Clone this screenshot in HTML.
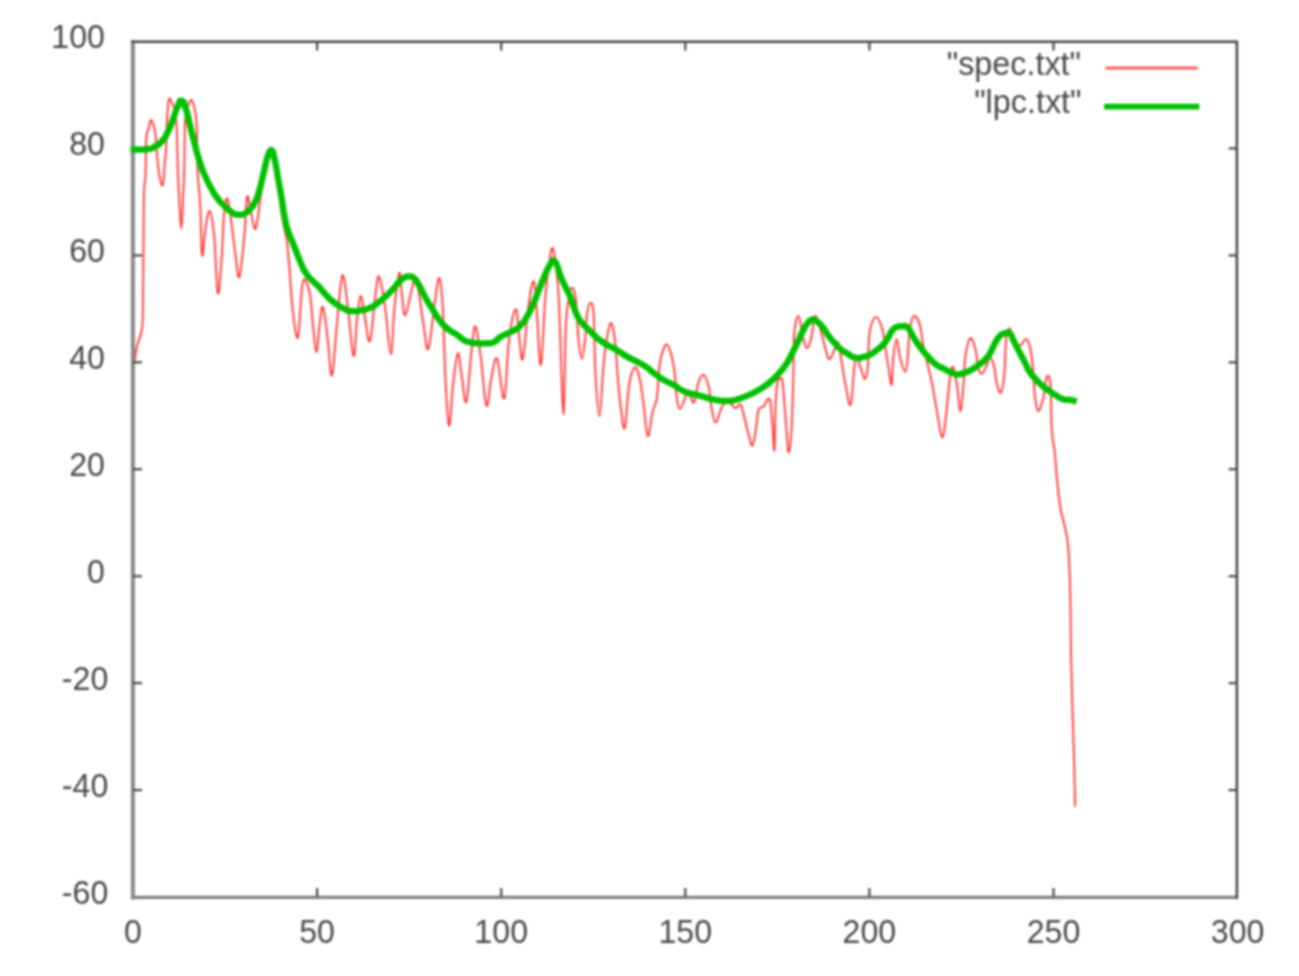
<!DOCTYPE html>
<html><head><meta charset="utf-8"><title>plot</title>
<style>
html,body{margin:0;padding:0;background:#fff;}
body{width:1299px;height:976px;overflow:hidden;}
svg{display:block;filter:blur(0.8px);}
text{font-family:"Liberation Sans",sans-serif;font-size:33.5px;fill:#484848;}
.ax{stroke:#484848;stroke-width:2.7;fill:none;}
.tk{stroke:#484848;stroke-width:2.2;fill:none;}
</style></head><body>
<svg width="1299" height="976" viewBox="0 0 1299 976">
<rect x="0" y="0" width="1299" height="976" fill="#fff"/>
<path d="M133.0,373.0 C133.7,368.2 135.4,354.5 136.9,347.0 C138.4,339.5 140.1,338.8 141.2,332.0 C142.3,325.2 142.5,334.2 143.0,310.0 C143.5,285.8 143.3,224.6 143.8,200.0 C144.3,175.4 145.0,187.3 145.5,176.0 C146.0,164.7 145.7,147.4 146.3,138.5 C146.9,129.6 148.0,131.1 148.9,127.7 C149.8,124.3 150.1,119.2 151.3,120.2 C152.5,121.2 154.3,126.8 155.3,133.1 C156.3,139.4 156.1,146.8 156.9,154.7 C157.7,162.6 158.5,170.7 159.6,176.2 C160.7,181.7 161.9,187.8 162.9,184.8 C163.9,181.8 164.4,166.5 165.0,160.0 C165.6,153.5 165.7,156.6 166.1,149.3 C166.5,142.0 166.5,129.1 167.0,120.0 C167.5,110.9 168.1,102.6 169.0,99.5 C169.9,96.4 171.0,101.3 172.0,102.9 C173.0,104.5 173.4,104.2 174.2,108.3 C175.0,112.4 176.0,115.2 176.6,125.0 C177.2,134.8 177.2,149.2 177.6,162.0 C178.0,174.8 178.3,182.7 179.0,195.0 C179.7,207.3 180.5,229.0 181.3,229.0 C182.1,229.0 182.6,206.7 183.2,195.0 C183.8,183.3 184.0,177.5 184.3,165.0 C184.6,152.5 184.6,136.7 184.9,127.0 C185.2,117.3 185.5,116.2 186.2,112.0 C186.9,107.8 187.7,106.2 188.7,104.0 C189.7,101.8 190.5,99.2 191.6,100.2 C192.7,101.2 193.7,104.4 194.7,109.4 C195.7,114.4 196.3,116.4 196.8,127.7 C197.3,139.0 197.0,156.6 197.6,170.8 C198.2,185.0 199.4,189.6 200.2,205.0 C201.0,220.4 201.2,250.1 202.1,255.0 C203.0,259.9 203.7,240.1 205.0,232.0 C206.3,223.9 207.8,210.7 209.4,211.0 C211.1,211.3 212.4,218.8 214.0,233.9 C215.6,249.0 216.5,288.4 217.9,293.1 C219.3,297.8 220.5,273.6 221.6,259.3 C222.7,245.0 222.9,226.1 224.0,215.0 C225.1,203.9 226.1,196.7 227.5,198.6 C228.9,200.5 230.3,215.1 231.8,225.4 C233.3,235.7 234.1,245.5 235.5,255.0 C236.9,264.5 237.8,280.9 239.4,277.0 C241.1,273.1 243.1,248.6 244.5,233.9 C245.9,219.2 245.9,201.3 247.0,196.9 C248.1,192.5 249.1,204.1 250.5,210.0 C251.9,215.9 253.5,227.4 254.8,229.0 C256.1,230.6 256.9,222.7 257.7,218.7 C258.5,214.7 258.6,211.5 259.2,207.0 C259.8,202.5 260.3,198.9 261.0,194.0 C261.7,189.1 262.1,185.7 263.0,180.0 C263.9,174.3 264.7,168.1 266.0,163.0 C267.3,157.9 268.5,151.6 270.0,152.0 C271.5,152.4 272.4,157.1 274.0,165.0 C275.6,172.9 277.4,184.6 279.0,195.0 C280.6,205.4 281.6,213.6 283.0,222.0 C284.4,230.4 285.6,232.2 286.8,240.6 C288.0,249.0 288.3,255.0 289.4,267.7 C290.5,280.4 291.2,297.1 292.7,310.0 C294.2,322.9 296.3,339.8 297.8,338.0 C299.3,336.2 299.9,310.7 301.0,300.0 C302.1,289.3 302.2,280.9 303.8,279.6 C305.4,278.3 308.0,284.7 309.7,293.0 C311.4,301.3 311.8,314.1 313.0,325.0 C314.2,335.9 315.3,352.4 316.5,352.4 C317.7,352.4 318.3,333.3 319.5,325.0 C320.7,316.7 321.4,304.6 322.9,307.0 C324.4,309.4 326.0,325.6 327.6,338.2 C329.2,350.8 330.2,378.0 331.9,375.5 C333.6,373.0 335.0,343.0 336.9,324.7 C338.8,306.4 340.4,278.7 342.4,275.6 C344.4,272.5 345.9,293.0 347.9,307.7 C349.9,322.4 351.8,353.7 353.5,356.0 C355.2,358.3 355.7,331.0 357.0,320.0 C358.3,309.0 359.1,296.3 360.6,295.9 C362.1,295.5 363.3,309.8 365.0,318.0 C366.7,326.2 368.0,345.8 370.0,340.8 C372.0,335.8 374.2,302.4 375.9,290.8 C377.6,279.2 377.6,274.2 379.3,277.3 C381.0,280.4 383.1,293.6 385.2,307.7 C387.3,321.8 389.1,354.3 390.8,354.3 C392.5,354.3 392.9,322.6 394.5,307.7 C396.1,292.8 397.9,275.3 399.3,273.0 C400.7,270.7 400.9,287.2 402.0,295.0 C403.1,302.8 403.5,316.2 405.2,315.4 C406.9,314.6 409.6,297.9 411.5,290.8 C413.4,283.7 414.2,274.8 415.7,276.4 C417.2,278.0 418.4,289.8 419.9,299.3 C421.4,308.8 422.4,319.0 424.0,328.0 C425.6,337.0 426.3,353.7 428.4,348.4 C430.5,343.1 433.2,312.2 435.2,299.3 C437.2,286.4 438.0,276.6 439.4,278.1 C440.8,279.6 441.7,289.8 442.8,307.7 C443.9,325.6 444.2,353.9 445.3,375.5 C446.4,397.1 447.6,424.0 449.0,425.7 C450.4,427.4 451.4,398.3 453.0,385.0 C454.6,371.7 456.2,354.5 457.9,353.2 C459.5,351.9 460.4,369.1 462.0,378.0 C463.6,386.9 464.6,406.6 466.4,401.5 C468.2,396.4 469.9,363.9 471.6,350.1 C473.3,336.3 473.8,324.8 475.5,326.4 C477.2,328.0 478.9,344.1 480.9,358.6 C482.9,373.1 484.5,401.8 486.4,405.7 C488.3,409.6 489.1,388.6 491.0,380.0 C492.9,371.4 494.6,355.3 497.0,358.7 C499.4,362.1 502.0,401.6 504.2,398.5 C506.4,395.4 506.7,357.9 508.8,341.6 C510.9,325.3 513.7,310.6 515.6,309.4 C517.5,308.2 517.7,325.9 519.0,335.0 C520.3,344.1 521.1,364.0 522.8,359.0 C524.5,354.0 526.3,322.0 528.3,307.7 C530.3,293.4 532.2,280.2 533.8,281.2 C535.4,282.2 535.6,297.8 536.9,313.1 C538.2,328.4 539.2,367.9 540.8,364.8 C542.4,361.7 543.9,314.5 545.4,296.2 C546.9,277.9 547.6,273.7 549.0,265.0 C550.4,256.3 551.3,244.6 553.0,248.8 C554.7,253.0 556.9,273.7 558.1,287.7 C559.3,301.7 558.8,301.9 559.8,325.0 C560.8,348.1 562.3,412.9 563.4,413.8 C564.5,414.7 564.8,350.6 565.7,330.0 C566.6,309.4 567.2,309.1 568.3,301.3 C569.4,293.5 570.3,288.0 571.7,287.7 C573.1,287.4 574.7,290.3 575.9,299.6 C577.1,308.9 577.3,327.7 578.4,338.6 C579.5,349.5 580.5,358.9 581.7,358.9 C582.9,358.9 584.2,346.7 585.2,338.6 C586.2,330.5 586.0,321.3 586.9,314.8 C587.8,308.3 589.1,303.0 590.3,303.0 C591.5,303.0 592.8,302.1 593.7,314.8 C594.6,327.5 594.4,353.8 595.4,372.4 C596.4,391.0 598.0,416.4 599.4,416.4 C600.8,416.4 601.9,385.1 603.0,372.4 C604.1,359.7 604.1,356.0 605.5,347.0 C606.9,338.0 608.8,324.8 610.5,323.3 C612.2,321.8 613.5,329.6 614.8,338.6 C616.1,347.6 616.4,360.2 617.4,372.4 C618.4,384.6 619.1,394.8 620.5,405.0 C621.9,415.2 623.2,431.9 624.8,428.2 C626.4,424.5 627.2,396.2 629.1,385.0 C631.0,373.8 633.0,368.1 635.0,367.3 C637.0,366.5 638.7,374.3 640.2,380.9 C641.7,387.5 642.0,393.0 643.4,403.1 C644.8,413.2 646.1,434.4 647.8,436.0 C649.5,437.6 651.0,418.6 652.7,411.6 C654.4,404.6 655.7,406.4 656.9,398.0 C658.1,389.6 658.5,374.3 659.5,365.9 C660.5,357.5 661.2,355.9 662.5,352.0 C663.8,348.1 665.1,344.0 666.8,344.6 C668.5,345.2 670.1,349.8 671.6,355.5 C673.1,361.2 674.1,368.6 675.0,375.8 C675.9,383.0 675.5,388.6 676.4,394.7 C677.3,400.8 677.9,409.1 679.8,409.1 C681.7,409.1 684.7,397.1 686.6,394.7 C688.5,392.3 688.6,394.6 690.0,396.0 C691.4,397.4 692.7,404.7 694.2,402.3 C695.7,399.9 696.7,387.8 698.4,382.8 C700.1,377.8 701.7,374.2 703.6,374.8 C705.5,375.4 707.2,380.7 708.6,386.2 C710.0,391.7 709.9,398.1 711.1,404.8 C712.3,411.5 713.5,422.0 715.4,422.6 C717.3,423.2 719.3,412.1 721.3,408.2 C723.3,404.3 724.6,402.3 726.4,401.5 C728.2,400.7 729.3,402.8 731.0,404.0 C732.7,405.2 733.9,408.1 735.7,408.2 C737.5,408.3 739.1,402.6 740.8,404.8 C742.5,407.0 743.5,414.2 745.0,420.1 C746.5,426.0 747.8,432.3 749.2,437.0 C750.6,441.7 751.4,447.0 752.6,445.5 C753.8,444.0 754.9,435.1 756.0,428.6 C757.1,422.1 757.2,414.0 758.6,409.9 C760.0,405.8 761.6,408.5 763.6,406.5 C765.6,404.5 768.0,396.4 769.6,398.9 C771.2,401.4 771.2,410.6 772.1,420.1 C773.0,429.6 773.8,453.3 774.4,450.5 C775.0,447.7 775.0,417.6 775.6,405.0 C776.2,392.4 776.7,386.9 777.5,382.0 C778.3,377.1 779.1,378.7 780.0,378.5 C780.9,378.3 781.7,376.1 782.5,381.0 C783.3,385.9 783.8,395.7 784.6,405.0 C785.4,414.3 785.8,423.0 786.6,431.7 C787.4,440.4 787.8,452.9 788.7,452.3 C789.6,451.7 790.8,442.3 791.6,428.6 C792.4,414.9 792.8,394.8 793.3,377.7 C793.8,360.6 793.2,346.7 794.1,335.4 C795.0,324.1 796.8,315.9 798.4,315.9 C800.0,315.9 801.1,329.5 802.6,335.4 C804.1,341.3 805.2,347.5 806.8,348.1 C808.4,348.7 809.5,344.7 811.1,338.8 C812.7,332.9 813.3,316.5 815.3,315.9 C817.3,315.3 820.1,328.7 822.1,335.4 C824.1,342.1 824.9,348.0 826.3,352.3 C827.7,356.6 828.1,359.7 829.7,359.1 C831.3,358.5 833.3,352.1 834.8,349.0 C836.3,345.9 836.9,340.0 838.1,342.2 C839.3,344.4 840.1,352.7 841.5,360.8 C842.9,368.9 844.1,378.2 845.8,386.2 C847.5,394.2 849.1,408.2 850.7,404.5 C852.3,400.8 853.3,374.8 854.4,366.2 C855.5,357.6 855.7,357.1 856.9,357.7 C858.1,358.3 859.7,365.7 861.2,369.6 C862.7,373.5 863.9,379.5 865.1,378.9 C866.3,378.3 867.1,374.7 867.9,366.2 C868.7,357.7 868.1,341.3 869.6,332.3 C871.1,323.3 873.6,317.7 875.9,317.1 C878.2,316.5 880.5,323.1 882.3,329.0 C884.1,334.9 884.6,342.5 885.7,349.3 C886.8,356.1 887.2,359.7 888.3,366.2 C889.4,372.7 890.8,386.4 891.7,384.8 C892.6,383.2 892.4,366.1 893.3,357.7 C894.2,349.3 895.5,339.1 896.7,339.1 C897.9,339.1 898.5,351.6 900.1,357.7 C901.7,363.8 903.8,372.1 905.2,372.1 C906.6,372.1 906.9,365.0 907.7,357.7 C908.5,350.4 908.3,339.9 909.4,332.3 C910.5,324.7 911.8,317.8 913.7,316.3 C915.6,314.8 917.9,318.8 919.6,323.9 C921.3,329.0 921.4,336.4 923.0,344.2 C924.6,352.0 926.4,358.8 928.1,366.2 C929.8,373.6 930.8,377.0 932.3,384.8 C933.8,392.6 934.7,399.0 936.5,408.6 C938.3,418.2 940.4,435.8 942.1,437.3 C943.8,438.8 944.7,425.4 945.9,417.0 C947.1,408.6 947.5,400.0 948.4,391.6 C949.3,383.2 950.0,375.6 950.9,371.3 C951.8,367.0 952.4,365.4 953.5,367.9 C954.6,370.4 955.6,376.9 956.9,384.8 C958.2,392.7 959.4,411.4 960.6,411.1 C961.8,410.8 962.7,392.9 963.6,383.1 C964.5,373.3 964.1,365.9 965.3,357.7 C966.5,349.5 968.2,339.8 970.1,338.3 C972.0,336.8 974.1,344.2 975.5,349.3 C976.9,354.4 976.9,361.7 978.0,366.2 C979.1,370.7 979.8,373.8 981.4,373.8 C983.0,373.8 984.9,369.2 986.5,366.2 C988.1,363.2 988.5,357.7 989.9,357.7 C991.3,357.7 992.9,361.5 994.1,366.2 C995.3,370.9 995.5,378.3 996.7,383.1 C997.9,387.9 999.5,394.0 1000.9,392.5 C1002.3,391.0 1003.4,384.2 1004.3,374.7 C1005.2,365.2 1005.1,349.3 1006.0,340.8 C1006.9,332.3 1007.9,328.2 1009.4,328.1 C1010.9,328.0 1012.1,336.7 1014.0,340.0 C1015.9,343.3 1017.2,346.1 1019.5,345.9 C1021.8,345.7 1024.3,338.5 1026.3,339.1 C1028.3,339.7 1029.3,343.7 1030.5,349.3 C1031.7,354.9 1032.3,361.2 1033.1,369.6 C1033.9,378.0 1033.9,387.4 1034.8,395.0 C1035.7,402.6 1036.5,410.4 1038.0,411.0 C1039.5,411.6 1041.6,404.6 1043.2,398.4 C1044.8,392.2 1045.5,379.5 1046.8,377.0 C1048.1,374.5 1049.6,375.3 1050.5,385.0 C1051.4,394.7 1051.0,417.7 1051.8,430.0 C1052.6,442.3 1053.7,442.5 1054.7,452.0 C1055.7,461.5 1056.2,471.4 1057.3,482.0 C1058.4,492.6 1058.9,499.2 1060.8,510.0 C1062.7,520.8 1065.9,526.8 1067.6,541.0 C1069.3,555.2 1069.4,565.2 1070.1,587.6 C1070.8,610.0 1070.5,631.4 1071.2,663.0 C1071.9,694.6 1073.4,733.5 1074.1,759.8 C1074.8,786.1 1075.0,797.9 1075.2,806.5" fill="none" stroke="#ff3838" stroke-width="1.9" stroke-linejoin="round" stroke-linecap="butt"/>
<line x1="1105.6" y1="67.9" x2="1197.7" y2="67.9" stroke="#ff5858" stroke-width="3"/>
<line x1="132.9" y1="42.5" x2="132.9" y2="897.4" stroke="#888888" stroke-width="4.0" stroke-linecap="square"/>
<line x1="131.0" y1="897.4" x2="1238.0" y2="897.4" stroke="#808080" stroke-width="3.4" stroke-linecap="butt"/>
<line x1="131.0" y1="41.8" x2="1238.1" y2="41.8" stroke="#444444" stroke-width="2.5" stroke-linecap="butt"/>
<line x1="1236.9" y1="41.8" x2="1236.9" y2="899.0" stroke="#444444" stroke-width="2.5" stroke-linecap="butt"/>
<line class="tk" x1="317.1" y1="897.0" x2="317.1" y2="888.0"/><line class="tk" x1="317.1" y1="41.5" x2="317.1" y2="50.5"/>
<line class="tk" x1="501.2" y1="897.0" x2="501.2" y2="888.0"/><line class="tk" x1="501.2" y1="41.5" x2="501.2" y2="50.5"/>
<line class="tk" x1="685.3" y1="897.0" x2="685.3" y2="888.0"/><line class="tk" x1="685.3" y1="41.5" x2="685.3" y2="50.5"/>
<line class="tk" x1="869.4" y1="897.0" x2="869.4" y2="888.0"/><line class="tk" x1="869.4" y1="41.5" x2="869.4" y2="50.5"/>
<line class="tk" x1="1053.5" y1="897.0" x2="1053.5" y2="888.0"/><line class="tk" x1="1053.5" y1="41.5" x2="1053.5" y2="50.5"/>
<line class="tk" x1="133.0" y1="790.1" x2="142.0" y2="790.1"/><line class="tk" x1="1237.6" y1="790.1" x2="1228.6" y2="790.1"/>
<line class="tk" x1="133.0" y1="683.1" x2="142.0" y2="683.1"/><line class="tk" x1="1237.6" y1="683.1" x2="1228.6" y2="683.1"/>
<line class="tk" x1="133.0" y1="576.2" x2="142.0" y2="576.2"/><line class="tk" x1="1237.6" y1="576.2" x2="1228.6" y2="576.2"/>
<line class="tk" x1="133.0" y1="469.2" x2="142.0" y2="469.2"/><line class="tk" x1="1237.6" y1="469.2" x2="1228.6" y2="469.2"/>
<line class="tk" x1="133.0" y1="362.3" x2="142.0" y2="362.3"/><line class="tk" x1="1237.6" y1="362.3" x2="1228.6" y2="362.3"/>
<line class="tk" x1="133.0" y1="255.4" x2="142.0" y2="255.4"/><line class="tk" x1="1237.6" y1="255.4" x2="1228.6" y2="255.4"/>
<line class="tk" x1="133.0" y1="148.4" x2="142.0" y2="148.4"/><line class="tk" x1="1237.6" y1="148.4" x2="1228.6" y2="148.4"/>
<path d="M130.5,149.3 C135.7,149.3 138.1,150.2 146.2,149.3 C154.3,148.4 149.4,149.5 154.8,146.6 C160.2,143.7 158.0,145.6 162.3,140.7 C166.6,135.8 164.1,139.2 167.7,132.0 C171.3,124.8 169.9,127.4 173.1,119.1 C176.3,110.8 174.6,113.3 177.4,107.2 C180.2,101.1 178.6,100.1 181.5,100.8 C184.4,101.5 183.0,100.7 186.0,109.4 C189.0,118.1 187.5,115.5 190.4,127.0 C193.3,138.5 191.5,132.2 194.7,144.0 C197.9,155.8 196.4,151.7 200.0,162.5 C203.6,173.3 201.4,167.5 205.4,176.5 C209.4,185.5 207.7,182.0 211.9,189.5 C216.1,197.0 214.0,193.7 218.0,199.0 C222.0,204.3 220.0,201.5 224.0,205.5 C228.0,209.5 226.6,208.2 230.0,211.0 C233.4,213.8 231.2,212.6 234.3,213.8 C237.4,215.0 236.0,214.7 239.3,214.7 C242.6,214.7 240.5,215.8 244.2,213.8 C247.9,211.8 246.7,212.9 250.4,208.8 C254.1,204.7 252.4,207.1 255.3,201.4 C258.2,195.7 256.5,199.8 259.0,191.6 C261.5,183.4 260.2,187.1 262.7,176.8 C265.2,166.5 264.4,168.6 266.4,160.8 C268.4,153.0 267.5,156.8 268.8,153.5 C270.1,150.2 269.1,151.7 270.2,150.8 C271.3,149.9 271.0,149.2 272.2,150.8 C273.4,152.4 272.5,150.1 273.8,155.5 C275.1,160.9 274.6,158.3 276.2,167.0 C277.8,175.7 276.8,171.0 278.7,181.7 C280.6,192.4 279.8,186.9 281.8,199.0 C283.8,211.1 282.6,207.0 284.8,218.0 C287.0,229.0 285.6,223.2 288.5,232.0 C291.4,240.8 289.4,234.2 293.5,244.5 C297.6,254.8 296.7,253.6 300.8,263.0 C304.9,272.4 302.0,267.1 305.7,272.8 C309.4,278.5 307.4,275.4 311.9,280.2 C316.4,285.0 314.8,282.5 319.3,287.2 C323.8,291.9 320.5,289.2 325.4,294.3 C330.3,299.4 327.8,297.7 334.0,302.4 C340.2,307.1 338.1,305.6 343.9,308.5 C349.7,311.4 345.6,310.4 351.3,311.0 C357.0,311.6 354.5,311.6 361.1,310.4 C367.7,309.2 365.2,310.0 371.0,307.3 C376.8,304.6 373.5,306.1 378.4,302.4 C383.3,298.7 380.9,300.7 385.8,296.2 C390.7,291.7 388.7,293.7 393.2,288.8 C397.7,283.9 395.6,285.1 399.3,281.4 C403.0,277.7 401.0,279.3 404.3,277.7 C407.6,276.1 405.9,276.3 409.2,276.5 C412.5,276.7 410.8,275.5 414.1,278.4 C417.4,281.3 415.0,278.2 419.0,285.1 C423.0,292.0 421.8,291.1 426.2,299.0 C430.6,306.9 428.2,302.2 432.3,308.8 C436.4,315.4 434.4,312.9 438.5,318.7 C442.6,324.5 440.5,322.0 444.6,326.1 C448.7,330.2 446.7,328.1 450.8,331.0 C454.9,333.9 452.9,331.8 457.0,334.7 C461.1,337.6 459.0,337.1 463.1,339.6 C467.2,342.1 464.4,340.9 469.3,342.1 C474.2,343.3 472.2,342.9 477.9,343.3 C483.6,343.7 481.2,343.7 486.5,343.3 C491.8,342.9 489.4,344.1 493.9,342.1 C498.4,340.1 495.6,340.1 500.1,337.2 C504.6,334.3 502.5,336.0 507.4,333.5 C512.3,331.0 510.3,332.7 514.8,329.8 C519.3,326.9 516.9,329.3 521.0,324.8 C525.1,320.3 523.1,323.2 527.2,316.2 C531.3,309.2 529.6,312.1 533.3,303.9 C537.0,295.7 534.9,299.8 538.2,291.6 C541.5,283.4 539.9,287.1 543.2,279.3 C546.5,271.5 545.2,274.0 548.1,268.2 C551.0,262.4 550.0,264.5 551.8,262.0 C553.6,259.5 552.0,260.0 553.6,260.8 C555.2,261.6 554.4,259.6 556.7,264.5 C559.0,269.4 557.5,268.2 560.4,275.6 C563.3,283.0 561.9,279.4 565.3,286.7 C568.7,294.0 566.9,288.6 570.5,297.5 C574.1,306.4 572.3,304.8 576.2,313.4 C580.1,322.0 578.2,318.0 582.3,323.3 C586.4,328.6 584.4,325.3 588.5,329.4 C592.6,333.5 590.1,331.5 594.6,335.6 C599.1,339.7 596.7,338.0 602.0,341.7 C607.3,345.4 604.8,343.4 610.6,346.7 C616.4,350.0 613.9,348.3 619.3,351.6 C624.7,354.9 621.0,353.2 626.7,356.5 C632.4,359.8 629.9,357.8 636.5,361.4 C643.1,365.0 640.6,363.3 646.4,367.2 C652.2,371.1 648.1,368.8 653.8,373.0 C659.5,377.2 657.0,376.0 663.6,379.9 C670.2,383.8 666.9,381.1 673.5,384.8 C680.1,388.5 676.7,387.9 683.3,391.0 C689.9,394.1 687.6,392.5 693.2,394.1 C698.8,395.7 694.7,394.3 700.0,395.7 C705.3,397.1 703.9,397.0 709.2,398.4 C714.5,399.8 711.7,399.2 716.0,400.0 C720.3,400.8 718.0,400.5 722.0,400.8 C726.0,401.1 724.0,401.1 728.0,400.9 C732.0,400.7 729.5,401.2 734.0,400.2 C738.5,399.2 736.3,399.8 741.6,397.9 C746.9,396.0 744.7,396.9 749.9,394.5 C755.1,392.1 752.4,393.6 757.3,390.8 C762.2,388.0 760.1,389.4 764.7,386.2 C769.3,383.0 767.1,384.6 771.1,381.1 C775.1,377.6 773.0,379.4 776.7,375.6 C780.4,371.8 778.8,373.8 782.2,369.6 C785.6,365.4 784.0,367.4 786.8,363.1 C789.6,358.8 788.0,361.2 790.5,356.6 C793.0,352.0 791.7,354.1 794.2,349.2 C796.7,344.3 795.1,347.7 797.9,341.8 C800.7,335.9 799.3,337.7 802.5,331.5 C805.7,325.3 804.5,327.1 807.4,323.3 C810.3,319.5 809.0,321.4 811.1,320.2 C813.2,319.0 811.1,318.8 813.6,319.6 C816.1,320.4 815.2,319.7 818.5,322.6 C821.8,325.5 820.2,323.9 823.5,328.2 C826.8,332.5 824.7,330.7 828.4,335.6 C832.1,340.5 830.4,338.5 834.5,343.0 C838.6,347.5 836.2,345.4 840.7,349.1 C845.2,352.8 843.2,351.1 848.1,354.0 C853.0,356.9 850.6,356.7 855.5,357.7 C860.4,358.7 858.0,358.2 862.9,357.1 C867.8,356.0 865.9,356.7 870.3,354.5 C874.7,352.3 872.2,353.4 876.2,350.4 C880.2,347.4 878.6,349.1 882.3,345.4 C886.0,341.7 883.9,344.2 887.2,339.3 C890.5,334.4 888.9,334.7 892.2,330.6 C895.5,326.5 893.8,328.3 897.1,326.9 C900.4,325.5 898.7,326.3 902.0,326.3 C905.3,326.3 904.0,325.0 906.9,326.9 C909.8,328.8 907.7,327.4 910.6,331.9 C913.5,336.4 911.9,334.8 915.6,340.5 C919.3,346.2 917.6,343.8 921.7,349.1 C925.8,354.4 923.4,351.6 927.9,356.5 C932.4,361.4 930.0,359.8 935.3,363.9 C940.6,368.0 938.6,365.9 943.9,368.8 C949.2,371.7 946.8,370.6 951.3,372.5 C955.8,374.4 953.3,374.2 957.4,374.4 C961.5,374.6 959.1,374.5 963.6,373.1 C968.1,371.7 966.1,372.8 971.0,370.1 C975.9,367.4 973.5,368.8 978.4,365.1 C983.3,361.4 981.7,363.4 985.8,359.0 C989.9,354.6 987.4,357.7 990.7,352.0 C994.0,346.3 992.4,347.4 995.6,342.0 C998.8,336.6 997.1,338.6 1000.2,335.7 C1003.3,332.8 1001.7,334.0 1005.0,333.3 C1008.3,332.6 1007.2,331.2 1010.0,333.6 C1012.8,336.0 1010.9,335.3 1013.5,340.5 C1016.1,345.7 1015.3,344.3 1017.8,349.1 C1020.3,353.9 1018.4,350.0 1021.0,355.0 C1023.6,360.0 1022.8,358.5 1025.7,364.1 C1028.6,369.7 1026.3,366.9 1029.6,371.8 C1032.9,376.7 1031.5,374.5 1035.5,378.9 C1039.5,383.3 1037.5,381.3 1041.6,385.0 C1045.7,388.7 1043.3,386.6 1047.8,389.9 C1052.3,393.2 1050.3,391.7 1055.2,394.8 C1060.1,397.9 1057.6,397.4 1062.5,399.1 C1067.4,400.8 1065.2,399.0 1069.9,399.8 C1074.6,400.6 1074.4,401.0 1076.7,401.6" fill="none" stroke="#00c000" stroke-width="6.3" stroke-linejoin="round" stroke-linecap="butt"/>
<line x1="1104.2" y1="106.6" x2="1199.4" y2="106.6" stroke="#00c000" stroke-width="5.8" stroke-linecap="butt"/>
<text transform="translate(133.0,943.0) scale(0.960,1)" text-anchor="middle">0</text>
<text transform="translate(317.1,943.0) scale(0.960,1)" text-anchor="middle">50</text>
<text transform="translate(501.2,943.0) scale(0.960,1)" text-anchor="middle">100</text>
<text transform="translate(685.3,943.0) scale(0.960,1)" text-anchor="middle">150</text>
<text transform="translate(869.4,943.0) scale(0.960,1)" text-anchor="middle">200</text>
<text transform="translate(1053.5,943.0) scale(0.960,1)" text-anchor="middle">250</text>
<text transform="translate(1237.6,943.0) scale(0.960,1)" text-anchor="middle">300</text>
<text transform="translate(108.3,903.6) scale(0.960,1)" text-anchor="end">-60</text>
<text transform="translate(108.3,796.7) scale(0.960,1)" text-anchor="end">-40</text>
<text transform="translate(108.3,689.7) scale(0.960,1)" text-anchor="end">-20</text>
<text transform="translate(105.0,582.8) scale(0.960,1)" text-anchor="end">0</text>
<text transform="translate(105.0,475.9) scale(0.960,1)" text-anchor="end">20</text>
<text transform="translate(105.0,368.9) scale(0.960,1)" text-anchor="end">40</text>
<text transform="translate(105.0,262.0) scale(0.960,1)" text-anchor="end">60</text>
<text transform="translate(105.0,155.0) scale(0.960,1)" text-anchor="end">80</text>
<text transform="translate(105.0,48.1) scale(0.960,1)" text-anchor="end">100</text>
<text transform="translate(1081.0,74.6) scale(0.965,1)" text-anchor="end">"spec.txt"</text>
<text transform="translate(1081.5,113.4) scale(0.965,1)" text-anchor="end">"lpc.txt"</text>
</svg></body></html>
